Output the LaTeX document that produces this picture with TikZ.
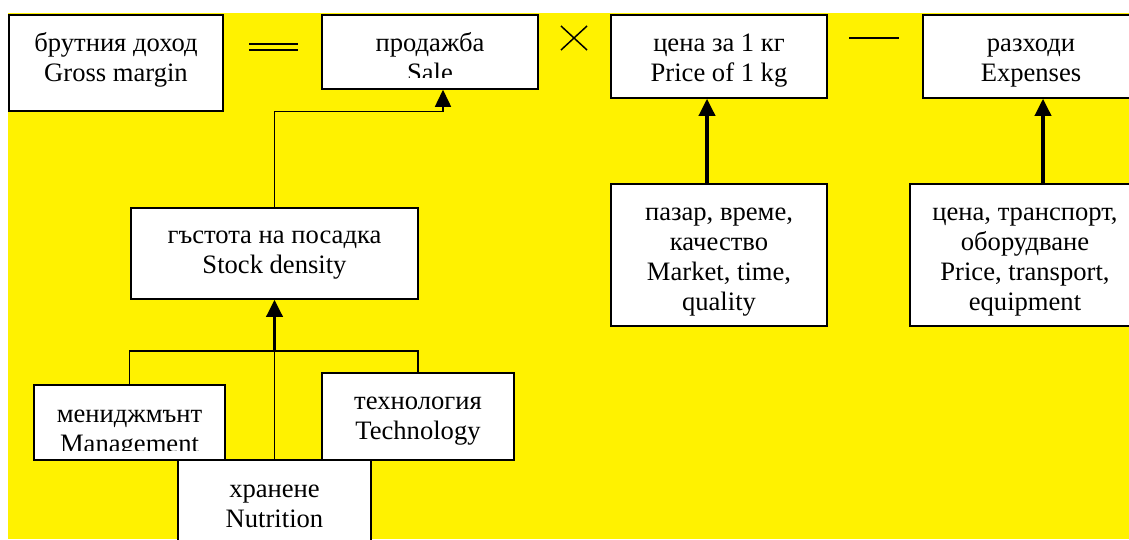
\documentclass[tikz,border=0pt]{standalone}
\usepackage{fontspec}
\setmainfont{Liberation Serif}
\usetikzlibrary{arrows.meta}

\newcommand\boxfont{\fontsize{26.6}{30}\selectfont}

\begin{document}
\begin{tikzpicture}
  [x=1pt,y=-1pt,
   every node/.style={font=\boxfont},
   box/.style={draw,fill=white,line width=1.5pt,inner sep=0pt},
   lbl/.style={align=center,inner sep=0pt,anchor=north},
   link/.style={line width=1.5pt},
   tip/.style={-{Triangle[length=17pt,width=16pt]}},
   arrow/.style={line width=3.5pt,tip},
   sign/.style={line width=1.5pt}]
  \useasboundingbox (0,0) rectangle (1129,539);
  \clip (0,0) rectangle (1129,539);
  \fill[yellow] (8,13) rectangle (1129,539);

  % boxes
  \node[box,minimum width=214pt,minimum height=96pt] (gross) at (116,63) {};
  \node[box,minimum width=216pt,minimum height=74pt] (sale) at (430,52) {};
  \node[box,minimum width=216pt,minimum height=83pt] (price) at (719,56.5) {};
  \node[box,minimum width=216pt,minimum height=83pt] (expenses) at (1031,56.5) {};
  \node[box,minimum width=287pt,minimum height=91pt] (stock) at (274.5,253.5) {};
  \node[box,minimum width=216pt,minimum height=142pt] (market) at (719,255) {};
  \node[box,minimum width=230pt,minimum height=142pt] (costs) at (1025,255) {};
  \node[box,minimum width=191pt,minimum height=75pt] (manage) at (129.5,422.5) {};
  \node[box,minimum width=192pt,minimum height=87pt] (tech) at (418,416.5) {};
  \node[box,minimum width=193pt,minimum height=100pt] (feed) at (274.5,510) {};

  % texts
  \node[lbl] (grossl) at (116,30) {\strut брутния доход\\Gross margin};
  \begin{scope}
    \clip (322,15) rectangle (538,77);
    \node[lbl] (salel) at (430,30) {\strut продажба\\Sale};
  \end{scope}
  \node[lbl] (pricel) at (719,30) {\strut цена за 1 кг\\Price of 1 kg};
  \node[lbl] (expensesl) at (1031,30) {\strut разходи\\Expenses};
  \node[lbl] (stockl) at (274.5,222) {\strut гъстота на посадка\\Stock density};
  \node[lbl] (marketl) at (719,199) {\strut пазар, време,\\качество\\Market, time,\\quality};
  \node[lbl] (costsl) at (1025,199) {\strut цена, транспорт,\\оборудване\\Price, transport,\\equipment};
  \begin{scope}
    \clip (34,385) rectangle (225,450);
    \node[lbl] (managel) at (129.5,401) {\strut мениджмънт\\Management};
  \end{scope}
  \node[lbl] (techl) at (418,388) {\strut технология\\Technology};
  \node[lbl] (feedl) at (274.5,476) {\strut хранене\\Nutrition};

  % signs between the top boxes
  \draw[sign] (249,44) -- (298,44);
  \draw[sign] (249,50) -- (298,50);
  \draw[sign] (561,26) -- (587,50);
  \draw[sign] (561,50) -- (587,26);
  \draw[line width=2pt] (849,38) -- (899,38);

  % connectors
  \coordinate (bus) at (274.5,351);
  \draw[link] (manage.north) |- (bus) -| (tech.north);
  \draw[link] (feed.north) -- (bus);
  \draw[arrow] (bus) -- (stock.south);
  \draw[link,tip] (stock.north) -- ++(0,-96) -| ([xshift=13pt]sale.south);
  \draw[arrow] ([xshift=-12pt]market.north) -- ([xshift=-12pt]price.south);
  \draw[arrow] ([xshift=18pt]costs.north) -- ([xshift=12pt]expenses.south);
\end{tikzpicture}
\end{document}
